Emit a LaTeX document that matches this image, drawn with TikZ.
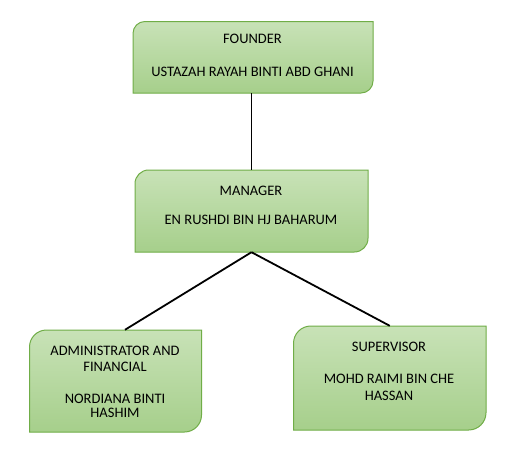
\documentclass[tikz,border=0pt]{standalone}
\usepackage{fontspec}
\setmainfont{Carlito}
\usetikzlibrary{calc}
\definecolor{gtop}{RGB}{200,226,183}
\definecolor{gbot}{RGB}{166,207,139}
\definecolor{gline}{RGB}{112,173,71}
\tikzset{
  boxstyle/.style={draw=gline, line width=1pt, top color=gtop, bottom color=gbot},
  lbl/.style={inner sep=0pt, anchor=center, font=\fontsize{14.5}{17}\selectfont, text=black},
  conn/.style={draw=black, line width=1.8pt}
}
\newcommand\rrbox[5]{%
  \pgfmathsetmacro\rr{0.1667*(#5-#3)}%
  \pgfmathsetmacro\rk{0.552*\rr}%
  \path[boxstyle] (#2,#5) -- (#2,#3+\rr) .. controls (#2,#3+\rr-\rk) and (#2+\rr-\rk,#3) .. (#2+\rr,#3) -- (#4,#3) -- (#4,#5-\rr) .. controls (#4,#5-\rr+\rk) and (#4-\rr+\rk,#5) .. (#4-\rr,#5) -- cycle;
  \pgfmathsetmacro\ww{#4-#2}%
  \pgfmathsetmacro\hh{#5-#3}%
  \node[inner sep=0pt, minimum width=\ww pt, minimum height=\hh pt] (#1) at ({(#2+#4)/2},{(#3+#5)/2}) {};
}
\begin{document}
\begin{tikzpicture}[x=1pt,y=-1pt]
\useasboundingbox[fill=white] (0,0) rectangle (527,463);
\rrbox{f}{133}{21.5}{373}{93}
\rrbox{m}{135}{170}{368}{252}
\rrbox{a}{29.5}{330}{201.5}{432}
\rrbox{s}{293.5}{326}{486}{430}
\node[lbl] (f1) at (252.5,39) {FOUNDER};
\node[lbl] (f2) at (252.5,72) {USTAZAH RAYAH BINTI ABD GHANI};
\node[lbl] (m1) at (251,191) {MANAGER};
\node[lbl] (m2) at (251,220) {EN RUSHDI BIN HJ BAHARUM};
\node[lbl] (a1) at (115,350.5) {ADMINISTRATOR AND};
\node[lbl] (a2) at (115,367) {FINANCIAL};
\node[lbl] (a3) at (115,398.5) {NORDIANA BINTI};
\node[lbl] (a4) at (115,413) {HASHIM};
\node[lbl] (s1) at (389,347) {SUPERVISOR};
\node[lbl] (s2) at (389,378.5) {MOHD RAIMI BIN CHE};
\node[lbl] (s3) at (389,395.5) {HASSAN};
\draw[conn] (m.north |- f.south) -- (m.north);
\draw[conn] (m.south) -- ($(a.north west)!0.555!(a.north east)$);
\draw[conn] (m.south) -- (s.north);
\end{tikzpicture}
\end{document}
